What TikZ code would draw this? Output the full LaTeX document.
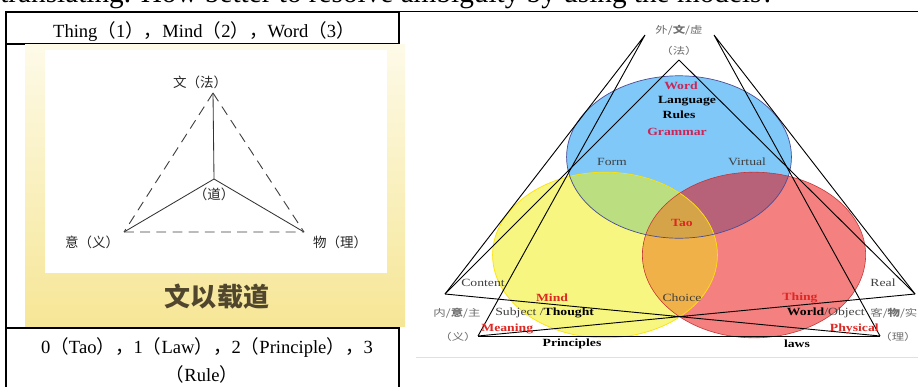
\documentclass[tikz,border=0pt]{standalone}
\usepackage{fontspec}
\setmainfont{Liberation Serif}
\newfontfamily\cjk{Noto Sans CJK SC}
\newcommand\zl{{\cjk （}}
\newcommand\zr{{\cjk ）}}
\newcommand\zc{{\cjk ，}}
\newcommand\wordoval{(679,157) ellipse [x radius=2.81cm,y radius=2.03cm]}
\newcommand\mindoval{(605,255) ellipse [x radius=2.81cm,y radius=2.07cm]}
\newcommand\thingoval{(754,255) ellipse [x radius=2.79cm,y radius=2.07cm]}
\definecolor{vennblue}{RGB}{128,200,248}
\definecolor{vennyellow}{RGB}{246,246,128}
\definecolor{vennred}{RGB}{244,128,128}
\definecolor{venngreen}{RGB}{186,222,128}
\definecolor{vennmauve}{RGB}{184,98,122}
\definecolor{vennorange}{RGB}{240,178,72}
\definecolor{venncore}{RGB}{214,164,72}
\definecolor{wordred}{RGB}{205,35,85}
\definecolor{mindred}{RGB}{222,40,35}
\definecolor{sidegray}{RGB}{110,110,110}
\definecolor{paneltop}{RGB}{253,250,232}
\definecolor{panelbottom}{RGB}{246,230,150}
\definecolor{motto}{RGB}{80,70,45}

\begin{document}
\begin{tikzpicture}[x=0.025cm,y=-0.025cm,every node/.style={inner sep=0pt},
  cell/.style={font=\fontsize{13.2pt}{16pt}\selectfont},
  tri/.style={font=\cjk\fontsize{9.6pt}{11pt}\selectfont,text=black!85},
  vennbold/.style={font=\bfseries\fontsize{7.8pt}{9pt}\selectfont,xscale=1.25},
  vennplain/.style={font=\fontsize{7.8pt}{9pt}\selectfont,xscale=1.25,text=black!75},
  side/.style={font=\cjk\fontsize{6.8pt}{8pt}\selectfont,xscale=1.3,text=sidegray},
  link/.style={line width=.65pt}]
  \path[use as bounding box,fill=white] (0,0) rectangle (918,387);

  % cut-off line of the page above the table
  \node[anchor=base west,font=\fontsize{20.8pt}{24pt}\selectfont] (intro) at (0,3)
    {translating. How better to resolve ambiguity by using the models?};

  % table rules
  \draw[line width=1.1pt] (5,12) -- (400,12);
  \draw[line width=.5pt] (400,11) -- (918,11);
  \draw[line width=1.1pt] (6,12) -- (6,387);
  \draw[line width=.8pt] (399,12) -- (399,387);
  \draw[line width=1.1pt] (6,44) -- (399,44);
  \draw[line width=1.1pt] (6,328) -- (399,328);
  \draw[black!12,line width=.6pt] (416,357) -- (918,357);

  \node[cell] (head) at (204,32) {Thing\zl1\zr\zc Mind\zl2\zr\zc Word\zl3\zr};
  \node[cell] (levels) at (207,348) {0\zl Tao\zr\zc 1\zl Law\zr\zc 2\zl Principle\zr\zc 3};
  \node[cell] (rule) at (202,374) {\zl Rule\zr};

  % left picture
  \shade[top color=paneltop,bottom color=panelbottom] (25,45) rectangle (405,326);
  \fill[white] (45,50) rectangle (387,273);
  \coordinate (wen) at (213,93);
  \coordinate (dao) at (214,179);
  \coordinate (yi) at (124,232);
  \coordinate (wu) at (304,232);
  \draw[black!80,line width=.6pt] (wen) -- (dao) (dao) -- (yi) (dao) -- (wu);
  \draw[black!75,line width=.65pt,dash pattern=on 7pt off 4.5pt]
    (wen) -- (yi) (wen) -- (wu) (yi) -- (wu);
  \node[tri] (wenl) at (200,82) {文（法）};
  \node[tri] (daol) at (214,194) {（道）};
  \node[tri] (yil) at (92,242) {意（义）};
  \node[tri] (wul) at (340,242) {物（理）};
  \node[font=\cjk\bfseries\fontsize{18.5pt}{20pt}\selectfont,text=motto] (motto) at (217,297) {文以载道};

  % right picture: three ovals
  \fill[vennyellow] \mindoval;
  \fill[vennred] \thingoval;
  \fill[vennblue] \wordoval;
  \begin{scope}
    \clip \thingoval;
    \fill[vennmauve] \wordoval;
  \end{scope}
  \begin{scope}
    \clip \mindoval;
    \fill[vennorange] \thingoval;
    \fill[venngreen] \wordoval;
    \clip \thingoval;
    \fill[venncore] \wordoval;
  \end{scope}
  \draw[yellow!85!orange,line width=.5pt] \mindoval;
  \draw[red!70!black!80,line width=.4pt] \thingoval;
  \draw[blue!40!black!70,line width=.5pt] \wordoval;

  % right picture: triangles
  \coordinate (outl) at (645,35);
  \coordinate (outr) at (714,35);
  \coordinate (fa) at (679,60);
  \coordinate (content) at (445,294);
  \coordinate (real) at (915,294);
  \coordinate (meaning) at (478,336);
  \coordinate (physical) at (880,336);
  \draw[link] (outl) -- (content) (outl) -- (meaning);
  \draw[link] (outr) -- (real) (outr) -- (physical);
  \draw[link] (fa) -- (content) (fa) -- (real);
  \draw[link] (content) -- (physical) (meaning) -- (real);
  \draw[link] (meaning) -- (physical);

  \node[side] (outer) at (679,30) {外/{\bfseries 文}/虚};
  \node[side] (law) at (679,51) {（法）};
  \node[vennbold,text=wordred] (word) at (681,86) {Word};
  \node[vennbold] (language) at (687,101) {Language};
  \node[vennbold] (rules) at (679,115) {Rules};
  \node[vennbold,text=wordred] (grammar) at (677,132) {Grammar};
  \node[vennplain] (form) at (612,162) {Form};
  \node[vennplain] (virtual) at (747,162) {Virtual};
  \node[vennbold,text=mindred] (tao) at (682,223) {Tao};
  \node[vennplain] (contentl) at (483,283) {Content};
  \node[vennplain] (reall) at (883,283) {Real};
  \node[vennbold,text=mindred] (mind) at (552,298) {Mind};
  \node[vennplain] (choice) at (682,298) {Choice};
  \node[vennbold,text=mindred] (thing) at (800,298) {Thing};
  \node[side] (inner) at (457,313) {内/{\bfseries 意}/主};
  \node[vennplain,anchor=west] (subject) at (495,313) {Subject /\textbf{\color{black}Thought}};
  \node[vennplain,anchor=east] (world) at (865,313) {\textbf{\color{black}World}/Object};
  \node[side,anchor=west] (guest) at (870,313) {客/{\bfseries 物}/实};
  \node[vennbold,text=mindred,anchor=west] (meaningl) at (481,329) {Meaning};
  \node[vennbold,text=mindred,anchor=east] (physicall) at (879,329) {Physical};
  \node[side] (yiside) at (458,337) {（义）};
  \node[side] (liside) at (898,337) {（理）};
  \node[vennbold] (principles) at (572,344) {Principles};
  \node[vennbold] (laws) at (797,344) {laws};
\end{tikzpicture}
\end{document}
